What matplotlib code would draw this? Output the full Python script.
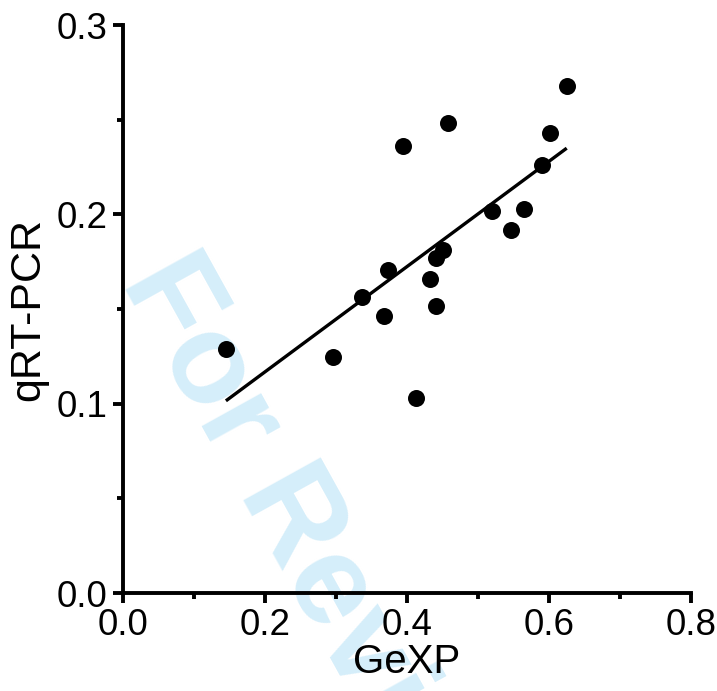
import matplotlib
matplotlib.use("Agg")
import matplotlib.pyplot as plt
import numpy as np
from matplotlib.ticker import MultipleLocator, FormatStrFormatter

# GeXP vs qRT-PCR measurements
gexp = [0.625, 0.458, 0.395, 0.602, 0.590, 0.520, 0.565, 0.547, 0.451,
        0.4405, 0.373, 0.432, 0.336, 0.441, 0.367, 0.145, 0.2965, 0.4124]
qrtpcr = [0.268, 0.248, 0.236, 0.243, 0.226, 0.2018, 0.2028, 0.1915, 0.1814,
          0.1769, 0.1708, 0.1659, 0.1565, 0.1518, 0.1465, 0.129, 0.1247, 0.103]

# linear regression line
fit_slope = 0.278
fit_intercept = 0.0612

x_ticks = [0.0, 0.2, 0.4, 0.6, 0.8]
y_ticks = [0.0, 0.1, 0.2, 0.3]

plt.rcParams["font.family"] = ["Liberation Sans", "DejaVu Sans"]

fig = plt.figure(figsize=(7.17, 6.91), dpi=100)
ax = fig.add_axes([0.1715, 0.1418, 0.7922, 0.822])

# background watermark, drawn beneath the axes
fig.text(0.168, 0.592, "For Review", rotation=-61, rotation_mode="anchor",
         ha="left", va="baseline", fontsize=92, fontweight="bold",
         color="#d5eefa", zorder=-5)
ax.set_facecolor("none")
fig.patch.set_facecolor("white")

ax.scatter(gexp, qrtpcr, s=150, color="black", zorder=3, linewidths=0)
xs = np.array([min(gexp), max(gexp)])
ax.plot(xs, fit_slope * xs + fit_intercept, color="black", lw=2.4,
        solid_capstyle="butt", zorder=2)

ax.set_xlim(0, 0.8)
ax.set_ylim(0, 0.3)
ax.set_xticks(x_ticks)
ax.set_yticks(y_ticks)
ax.xaxis.set_major_formatter(FormatStrFormatter("%.1f"))
ax.yaxis.set_major_formatter(FormatStrFormatter("%.1f"))
ax.xaxis.set_minor_locator(MultipleLocator(0.1))
ax.yaxis.set_minor_locator(MultipleLocator(0.05))

for side in ("top", "right"):
    ax.spines[side].set_visible(False)
for side in ("left", "bottom"):
    ax.spines[side].set_linewidth(2.8)

ax.tick_params(which="major", length=7, width=2.8, labelsize=26.5, pad=4,
               direction="out")
ax.tick_params(which="minor", length=4, width=2.8, direction="out")

ax.set_xlabel("GeXP", fontsize=29, labelpad=0)
ax.set_ylabel("qRT-PCR", fontsize=31, labelpad=6)

fig.savefig("out.png", dpi=100, facecolor="white")
